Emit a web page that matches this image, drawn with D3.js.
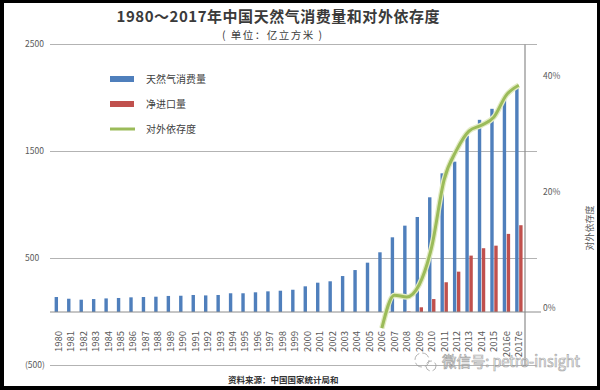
<!DOCTYPE html>
<html>
<head>
<meta charset="utf-8">
<script src="https://cdn.jsdelivr.net/npm/d3@7"></script>
<style>
  html, body { margin: 0; padding: 0; background: #000; }
  svg { display: block; }
  text { font-family: "Noto Sans CJK SC", "Noto Sans", "DejaVu Sans", sans-serif; }
</style>
</head>
<body>
<svg id="chart" width="600" height="390"></svg>
<script>
// ---- data ----
const years = ["1980","1981","1982","1983","1984","1985","1986","1987","1988","1989",
  "1990","1991","1992","1993","1994","1995","1996","1997","1998","1999",
  "2000","2001","2002","2003","2004","2005","2006","2007","2008","2009",
  "2010","2011","2012","2013","2014","2015","2016e","2017e"];
const consumption = [140,124,115,121,127,131,137,140,143,150,
  152,159,155,159,175,175,184,193,199,208,
  240,274,287,336,392,461,558,698,807,888,
  1072,1296,1405,1646,1796,1899,1989,2107];
const netImports = [null,null,null,null,null,null,null,null,null,null,
  null,null,null,null,null,null,null,null,null,null,
  null,null,null,null,null,null,null,null,5,44,
  121,278,377,527,596,620,730,811];
const dependence = [null,null,null,null,null,null,null,null,null,null,
  null,null,null,null,null,null,null,null,null,null,
  null,null,null,null,null,null,-2.8,2.9,2.6,4.7,
  11.2,22.8,27.9,31.2,32.2,33.6,37.4,39.1];
const leftTicks = [-500, 500, 1500, 2500];
const leftTickLabels = ["(500)", "500", "1500", "2500"];
const rightTicks = [0, 20, 40];
const seriesNames = ["天然气消费量", "净进口量", "对外依存度"];
const titleText = "1980～2017年中国天然气消费量和对外依存度";
const subtitleText = "( 单位：亿立方米 )";
const rightAxisTitle = "对外依存度";
const sourceText = "资料来源：中国国家统计局和";
const watermarkText = "微信号: petro-insight";

// ---- drawing ----
const svg = d3.select("#chart");
const BLUE = "#4f7fbc", RED = "#c0504d", GREEN = "#9bbb59";

svg.append("rect").attr("x", 0).attr("y", 0).attr("width", 600).attr("height", 390).attr("fill", "#000");
svg.append("rect").attr("x", 4).attr("y", 3).attr("width", 593).attr("height", 383).attr("fill", "#fff");

const x = d3.scaleBand().domain(years).range([52, 525]);
const y = d3.scaleLinear().domain([-500, 2500]).range([365.5, 44.5]);
const yR = d3.scaleLinear().domain([0, 40]).range([y(0), y(0) - 232]);

// gridlines
svg.append("g").selectAll("line").data(leftTicks).join("line")
  .attr("x1", 50).attr("x2", 537)
  .attr("y1", d => y(d)).attr("y2", d => y(d))
  .attr("stroke", "#b3b3b3").attr("stroke-width", 1);

// left tick labels
svg.append("g").selectAll("text").data(leftTicks).join("text")
  .attr("x", 25).attr("y", d => y(d)).attr("dy", "0.35em")
  .attr("font-size", 8.5).attr("fill", "#595959")
  .text((d, i) => leftTickLabels[i]);

// blue bars
const bw = 3.4;
svg.append("g").selectAll("rect").data(years.map((yr, i) => ({yr, v: consumption[i]}))).join("rect")
  .attr("x", d => x(d.yr) + x.bandwidth() / 2 - bw - 0.2)
  .attr("width", bw)
  .attr("y", d => y(d.v))
  .attr("height", d => y(0) - y(d.v))
  .attr("fill", BLUE);

// red bars
svg.append("g").selectAll("rect").data(years.map((yr, i) => ({yr, v: netImports[i]})).filter(d => d.v != null)).join("rect")
  .attr("x", d => x(d.yr) + x.bandwidth() / 2 + 0.4)
  .attr("width", bw)
  .attr("y", d => y(Math.max(0, d.v)))
  .attr("height", d => Math.abs(y(0) - y(d.v)))
  .attr("fill", RED);

// baseline
svg.append("line").attr("x1", 50).attr("x2", 541).attr("y1", y(0)).attr("y2", y(0))
  .attr("stroke", "#8c8c8c").attr("stroke-width", 1);

// right axis
svg.append("line").attr("x1", 525).attr("x2", 525).attr("y1", y(2500)).attr("y2", y(-500))
  .attr("stroke", "#8c8c8c").attr("stroke-width", 1.2);
svg.append("g").selectAll("text").data(rightTicks).join("text")
  .attr("x", 543).attr("y", d => yR(d) - 4).attr("dy", "0.35em")
  .attr("font-size", 8.5).attr("fill", "#595959")
  .text(d => d + "%");
svg.append("text")
  .attr("transform", "translate(590,228) rotate(-90)")
  .attr("text-anchor", "middle").attr("dy", "0.35em")
  .attr("font-size", 9).attr("fill", "#595959")
  .text(rightAxisTitle);

// dependence line
const lineData = years.map((yr, i) => ({yr, v: dependence[i]})).filter(d => d.v != null);
const lineGen = d3.line().x(d => x(d.yr) + x.bandwidth() / 2).y(d => yR(d.v)).curve(d3.curveMonotoneX);
svg.append("path").datum(lineData).attr("d", lineGen)
  .attr("fill", "none").attr("stroke", "#e3ebc4").attr("stroke-width", 5.5).attr("stroke-linejoin", "round");
svg.append("path").datum(lineData).attr("d", lineGen)
  .attr("fill", "none").attr("stroke", GREEN).attr("stroke-width", 3).attr("stroke-linejoin", "round");

// x labels
svg.append("g").selectAll("text").data(years).join("text")
  .attr("transform", d => `translate(${x(d) + x.bandwidth() / 2 + 3.5},331) rotate(-90)`)
  .attr("text-anchor", "end")
  .attr("font-size", 9.5).attr("fill", "#595959")
  .attr("font-family", "'Liberation Sans', 'DejaVu Sans', sans-serif")
  .text(d => d);

// legend
const lg = svg.append("g");
const legendY = [79, 104, 129];
lg.append("rect").attr("x", 110).attr("y", legendY[0] - 3).attr("width", 24).attr("height", 6).attr("fill", BLUE);
lg.append("rect").attr("x", 110).attr("y", legendY[1] - 3).attr("width", 24).attr("height", 6).attr("fill", RED);
lg.append("line").attr("x1", 110).attr("x2", 135).attr("y1", legendY[2]).attr("y2", legendY[2])
  .attr("stroke", GREEN).attr("stroke-width", 3);
lg.selectAll("text").data(seriesNames).join("text")
  .attr("x", 146).attr("y", (d, i) => legendY[i]).attr("dy", "0.35em")
  .attr("font-size", 10).attr("fill", "#404040")
  .text(d => d);

// titles
svg.append("text").attr("x", 278).attr("y", 17).attr("dy", "0.35em").attr("text-anchor", "middle")
  .attr("font-size", 15).attr("font-weight", "bold").attr("fill", "#3a3a3a")
  .attr("textLength", 323).attr("lengthAdjust", "spacing").text(titleText);
svg.append("text").attr("x", 272).attr("y", 35).attr("dy", "0.35em").attr("text-anchor", "middle")
  .attr("font-size", 10.5).attr("fill", "#404040")
  .attr("textLength", 100).attr("lengthAdjust", "spacing").text(subtitleText);

// source
svg.append("text").attr("x", 228).attr("y", 380).attr("dy", "0.35em")
  .attr("font-size", 8.5).attr("font-weight", "bold").attr("fill", "#333").text(sourceText);

// watermark
const wm = svg.append("g").attr("opacity", 0.75);
wm.append("circle").attr("cx", 422).attr("cy", 360).attr("r", 7).attr("fill", "none")
  .attr("stroke", "#999").attr("stroke-width", 1).attr("stroke-dasharray", "8,3");
wm.append("circle").attr("cx", 431).attr("cy", 366).attr("r", 5).attr("fill", "none")
  .attr("stroke", "#999").attr("stroke-width", 1).attr("stroke-dasharray", "6,3");
wm.append("text").attr("x", 442).attr("y", 362).attr("dy", "0.35em")
  .attr("font-size", 15).attr("fill", "#fff").attr("stroke", "#8a8a8a").attr("stroke-width", 0.7)
  .attr("textLength", 138).attr("lengthAdjust", "spacingAndGlyphs")
  .text(watermarkText);
</script>
</body>
</html>
